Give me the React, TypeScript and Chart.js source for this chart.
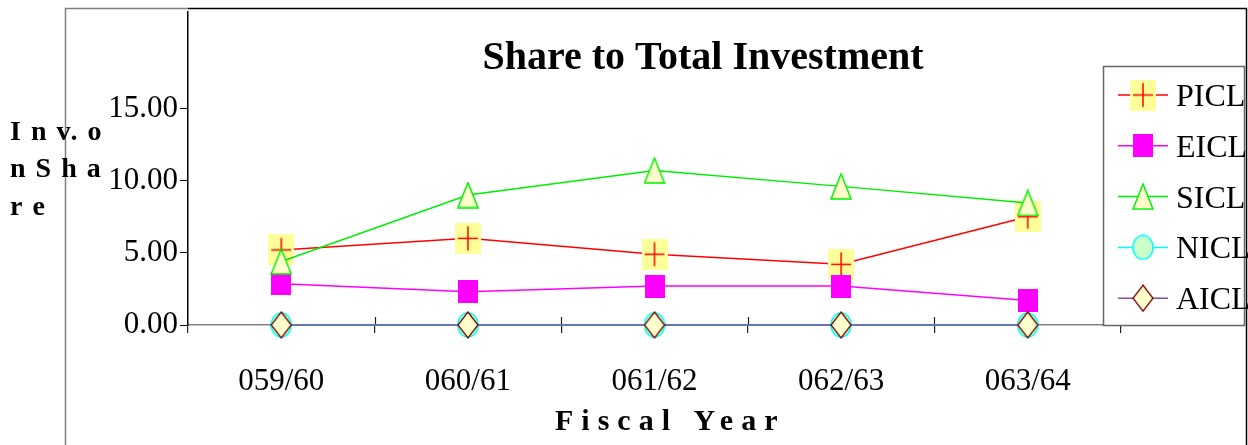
import React, { useEffect, useRef } from 'react';
import { Chart, registerables } from 'chart.js';

Chart.register(...registerables);

const categories = ['059/60', '060/61', '061/62', '062/63', '063/64'];
const picl = [5.2, 6.0, 4.9, 4.2, 7.5];
const eicl = [2.85, 2.3, 2.7, 2.7, 1.7];
const sicl = [4.4, 9.0, 10.7, 9.6, 8.45];
const nicl = [0, 0, 0, 0, 0];
const aicl = [0, 0, 0, 0, 0];
const yTicks = [0, 5, 10, 15];
const seriesNames = ['PICL', 'EICL', 'SICL', 'NICL', 'AICL'];
const seriesColors = ['#ff0000', '#ff00ff', '#00ee00', '#00ffff', '#7a50a8'];
const chartTitle = 'Share to Total Investment';
const yTitleLines = ['I n v. o', 'n S h a', 'r e'];
const xTitle = 'Fiscal Year';

const SERIF = '"Liberation Serif", "Times New Roman", serif';

function makeMarker(kind: string): HTMLCanvasElement {
  const c = document.createElement('canvas');
  const ctx = c.getContext('2d')!;
  if (kind === 'PICL') {
    c.width = 26; c.height = 31;
    ctx.fillStyle = '#ffff99';
    ctx.fillRect(0, 0, 26, 31);
    ctx.strokeStyle = '#ff0000';
    ctx.lineWidth = 1.5;
    ctx.beginPath();
    ctx.moveTo(3, 15.5); ctx.lineTo(23, 15.5);
    ctx.moveTo(13, 3.5); ctx.lineTo(13, 27.5);
    ctx.stroke();
  } else if (kind === 'EICL') {
    c.width = 20; c.height = 23;
    ctx.fillStyle = '#ff00ff';
    ctx.fillRect(0, 0, 20, 23);
  } else if (kind === 'SICL') {
    c.width = 22; c.height = 27;
    ctx.fillStyle = '#ffffcc';
    ctx.strokeStyle = '#00ee00';
    ctx.lineWidth = 1.5;
    ctx.beginPath();
    ctx.moveTo(11, 1); ctx.lineTo(21, 26); ctx.lineTo(1, 26); ctx.closePath();
    ctx.fill(); ctx.stroke();
  } else if (kind === 'NICL') {
    c.width = 22; c.height = 26;
    ctx.fillStyle = '#ccffcc';
    ctx.strokeStyle = '#00ffff';
    ctx.lineWidth = 1.5;
    ctx.beginPath();
    ctx.ellipse(11, 13, 10, 12, 0, 0, Math.PI * 2);
    ctx.fill(); ctx.stroke();
  } else {
    c.width = 22; c.height = 28;
    ctx.fillStyle = '#ffffcc';
    ctx.strokeStyle = '#800000';
    ctx.lineWidth = 1.3;
    ctx.beginPath();
    ctx.moveTo(11, 1); ctx.lineTo(21, 14); ctx.lineTo(11, 27); ctx.lineTo(1, 14); ctx.closePath();
    ctx.fill(); ctx.stroke();
  }
  return c;
}

export default function App() {
  const ref = useRef<HTMLCanvasElement | null>(null);

  useEffect(() => {
    if (!ref.current) return;
    const markers = seriesNames.map((n) => makeMarker(n));
    const values = [picl, eicl, sicl, nicl, aicl];

    const decor = {
      id: 'decor',
      beforeDraw(chart: any) {
        const { ctx, width, height } = chart;
        ctx.save();
        ctx.fillStyle = '#ffffff';
        ctx.fillRect(0, 0, width, height);
        ctx.lineWidth = 1.5;
        ctx.strokeStyle = '#808080';
        ctx.beginPath();
        ctx.moveTo(65.5, height); ctx.lineTo(65.5, 8.5); ctx.lineTo(188, 8.5);
        ctx.stroke();
        ctx.strokeStyle = '#000000';
        ctx.beginPath();
        ctx.moveTo(188, 8.5); ctx.lineTo(1246.5, 8.5); ctx.lineTo(1246.5, height);
        ctx.stroke();
        ctx.restore();
      },
      beforeDatasetsDraw(chart: any) {
        const { ctx, chartArea } = chart;
        const xs = chart.scales.x;
        ctx.save();
        ctx.strokeStyle = '#222222';
        ctx.lineWidth = 1.2;
        ctx.beginPath();
        for (let i = 1; i < categories.length; i++) {
          const px = Math.round((xs.getPixelForValue(i - 1) + xs.getPixelForValue(i)) / 2) + 0.5;
          ctx.moveTo(px, chartArea.bottom - 8);
          ctx.lineTo(px, chartArea.bottom);
        }
        ctx.stroke();
        ctx.restore();
      },
      afterDraw(chart: any) {
        const { ctx } = chart;
        ctx.save();
        ctx.fillStyle = '#000000';
        ctx.font = `bold 40px ${SERIF}`;
        ctx.textAlign = 'center';
        ctx.textBaseline = 'alphabetic';
        ctx.fillText(chartTitle, 703, 69);
        ctx.textAlign = 'left';
        ctx.font = `bold 28px ${SERIF}`;
        (ctx as any).letterSpacing = '1.5px';
        const yBase = [140, 177, 215];
        yTitleLines.forEach((line, i) => ctx.fillText(line, 10, yBase[i]));
        ctx.font = `bold 30px ${SERIF}`;
        (ctx as any).letterSpacing = '8px';
        ctx.fillText(xTitle, 555, 430);
        (ctx as any).letterSpacing = '0px';
        const lx = 1103, ly = 66, lw = 141, lh = 259;
        ctx.fillStyle = '#ffffff';
        ctx.fillRect(lx, ly, lw, lh);
        ctx.strokeStyle = '#666666';
        ctx.lineWidth = 1.5;
        ctx.strokeRect(lx + 0.5, ly + 0.5, lw, lh);
        ctx.font = `32px ${SERIF}`;
        seriesNames.forEach((name, i) => {
          const y = 95 + i * 50.8;
          ctx.strokeStyle = seriesColors[i];
          ctx.lineWidth = 1.5;
          ctx.beginPath();
          ctx.moveTo(1118, y); ctx.lineTo(1168, y);
          ctx.stroke();
          const m = markers[i];
          ctx.drawImage(m, 1143 - m.width / 2, y - m.height / 2);
          ctx.fillStyle = '#000000';
          ctx.fillText(name, 1176, y + 11);
        });
        ctx.restore();
      },
    };

    const chart = new Chart(ref.current, {
      type: 'line',
      data: {
        labels: categories,
        datasets: seriesNames.map((name, i) => ({
          label: name,
          data: values[i],
          borderColor: seriesColors[i],
          backgroundColor: seriesColors[i],
          borderWidth: 1.5,
          pointStyle: markers[i] as any,
          pointRadius: 10,
          tension: 0,
          fill: false,
          order: seriesNames.length - i,
          clip: false as any,
        })),
      },
      options: {
        responsive: false,
        animation: false,
        events: [],
        layout: { padding: { left: 68, right: 127, top: 8, bottom: 0 } },
        plugins: {
          legend: { display: false },
          title: { display: false },
          tooltip: { enabled: false },
        },
        scales: {
          x: {
            type: 'category',
            offset: true,
            afterFit: (s: any) => { s.height = 120; s.paddingLeft = 0; s.paddingRight = 0; },
            grid: { offset: true, drawOnChartArea: false, drawTicks: true, tickLength: 8, color: '#222222', lineWidth: 1.2 },
            border: { display: true, color: '#808080', width: 1.5 },
            ticks: { font: { family: SERIF, size: 31 }, color: '#000000', padding: 30, maxRotation: 0, autoSkip: false },
          },
          y: {
            min: 0,
            max: 21.71,
            afterBuildTicks: (s: any) => { s.ticks = yTicks.map((v) => ({ value: v })); },
            afterFit: (s: any) => { s.width = 120; s.paddingTop = 0; s.paddingBottom = 0; },
            grid: { drawOnChartArea: false, drawTicks: true, tickLength: 8, color: '#000000', lineWidth: 1 },
            border: { display: true, color: '#000000', width: 1.5 },
            ticks: { font: { family: SERIF, size: 31 }, color: '#000000', padding: 2, callback: (v: any) => Number(v).toFixed(2) },
          },
        },
      },
      plugins: [decor],
    });
    return () => chart.destroy();
  }, []);

  return (
    <div style={{ position: 'absolute', left: 0, top: 0, width: 1248, height: 445 }}>
      <canvas ref={ref} width={1248} height={445} style={{ display: 'block', width: 1248, height: 445 }} />
    </div>
  );
}
